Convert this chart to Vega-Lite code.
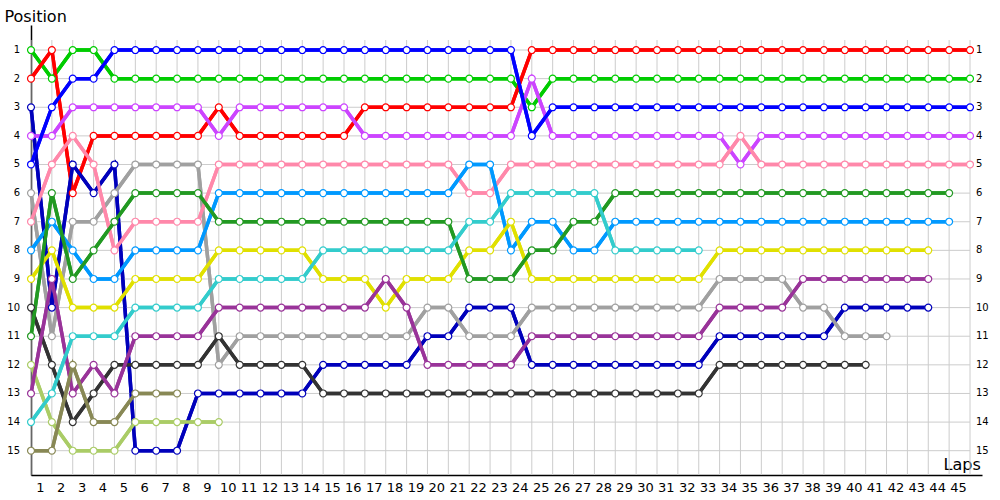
{
"$schema": "https://vega.github.io/schema/vega-lite/v6.json",
"width": 951, "height": 450,
"autosize": {"type": "none"},
"padding": {"left": 31, "top": 25, "right": 18, "bottom": 25},
"background": "white",
"config": {"view": {"stroke": null}, "font": "DejaVu Sans"},
"datasets": {
"laps": [{"lap":0},{"lap":1},{"lap":2},{"lap":3},{"lap":4},{"lap":5},{"lap":6},{"lap":7},{"lap":8},{"lap":9},{"lap":10},{"lap":11},{"lap":12},{"lap":13},{"lap":14},{"lap":15},{"lap":16},{"lap":17},{"lap":18},{"lap":19},{"lap":20},{"lap":21},{"lap":22},{"lap":23},{"lap":24},{"lap":25},{"lap":26},{"lap":27},{"lap":28},{"lap":29},{"lap":30},{"lap":31},{"lap":32},{"lap":33},{"lap":34},{"lap":35},{"lap":36},{"lap":37},{"lap":38},{"lap":39},{"lap":40},{"lap":41},{"lap":42},{"lap":43},{"lap":44},{"lap":45}],
"positions": [{"pos":1},{"pos":2},{"pos":3},{"pos":4},{"pos":5},{"pos":6},{"pos":7},{"pos":8},{"pos":9},{"pos":10},{"pos":11},{"pos":12},{"pos":13},{"pos":14},{"pos":15}],
"race": [
{"driver":"D01","lap":0,"pos":1},{"driver":"D01","lap":1,"pos":2},{"driver":"D01","lap":2,"pos":1},{"driver":"D01","lap":3,"pos":1},{"driver":"D01","lap":4,"pos":2},{"driver":"D01","lap":5,"pos":2},{"driver":"D01","lap":6,"pos":2},{"driver":"D01","lap":7,"pos":2},{"driver":"D01","lap":8,"pos":2},{"driver":"D01","lap":9,"pos":2},{"driver":"D01","lap":10,"pos":2},{"driver":"D01","lap":11,"pos":2},{"driver":"D01","lap":12,"pos":2},{"driver":"D01","lap":13,"pos":2},{"driver":"D01","lap":14,"pos":2},{"driver":"D01","lap":15,"pos":2},{"driver":"D01","lap":16,"pos":2},{"driver":"D01","lap":17,"pos":2},{"driver":"D01","lap":18,"pos":2},{"driver":"D01","lap":19,"pos":2},{"driver":"D01","lap":20,"pos":2},{"driver":"D01","lap":21,"pos":2},{"driver":"D01","lap":22,"pos":2},{"driver":"D01","lap":23,"pos":2},{"driver":"D01","lap":24,"pos":3},{"driver":"D01","lap":25,"pos":2},{"driver":"D01","lap":26,"pos":2},{"driver":"D01","lap":27,"pos":2},{"driver":"D01","lap":28,"pos":2},{"driver":"D01","lap":29,"pos":2},{"driver":"D01","lap":30,"pos":2},{"driver":"D01","lap":31,"pos":2},{"driver":"D01","lap":32,"pos":2},{"driver":"D01","lap":33,"pos":2},{"driver":"D01","lap":34,"pos":2},{"driver":"D01","lap":35,"pos":2},{"driver":"D01","lap":36,"pos":2},{"driver":"D01","lap":37,"pos":2},{"driver":"D01","lap":38,"pos":2},{"driver":"D01","lap":39,"pos":2},{"driver":"D01","lap":40,"pos":2},{"driver":"D01","lap":41,"pos":2},{"driver":"D01","lap":42,"pos":2},{"driver":"D01","lap":43,"pos":2},{"driver":"D01","lap":44,"pos":2},{"driver":"D01","lap":45,"pos":2},
{"driver":"D02","lap":0,"pos":2},{"driver":"D02","lap":1,"pos":1},{"driver":"D02","lap":2,"pos":6},{"driver":"D02","lap":3,"pos":4},{"driver":"D02","lap":4,"pos":4},{"driver":"D02","lap":5,"pos":4},{"driver":"D02","lap":6,"pos":4},{"driver":"D02","lap":7,"pos":4},{"driver":"D02","lap":8,"pos":4},{"driver":"D02","lap":9,"pos":3},{"driver":"D02","lap":10,"pos":4},{"driver":"D02","lap":11,"pos":4},{"driver":"D02","lap":12,"pos":4},{"driver":"D02","lap":13,"pos":4},{"driver":"D02","lap":14,"pos":4},{"driver":"D02","lap":15,"pos":4},{"driver":"D02","lap":16,"pos":3},{"driver":"D02","lap":17,"pos":3},{"driver":"D02","lap":18,"pos":3},{"driver":"D02","lap":19,"pos":3},{"driver":"D02","lap":20,"pos":3},{"driver":"D02","lap":21,"pos":3},{"driver":"D02","lap":22,"pos":3},{"driver":"D02","lap":23,"pos":3},{"driver":"D02","lap":24,"pos":1},{"driver":"D02","lap":25,"pos":1},{"driver":"D02","lap":26,"pos":1},{"driver":"D02","lap":27,"pos":1},{"driver":"D02","lap":28,"pos":1},{"driver":"D02","lap":29,"pos":1},{"driver":"D02","lap":30,"pos":1},{"driver":"D02","lap":31,"pos":1},{"driver":"D02","lap":32,"pos":1},{"driver":"D02","lap":33,"pos":1},{"driver":"D02","lap":34,"pos":1},{"driver":"D02","lap":35,"pos":1},{"driver":"D02","lap":36,"pos":1},{"driver":"D02","lap":37,"pos":1},{"driver":"D02","lap":38,"pos":1},{"driver":"D02","lap":39,"pos":1},{"driver":"D02","lap":40,"pos":1},{"driver":"D02","lap":41,"pos":1},{"driver":"D02","lap":42,"pos":1},{"driver":"D02","lap":43,"pos":1},{"driver":"D02","lap":44,"pos":1},{"driver":"D02","lap":45,"pos":1},
{"driver":"D03","lap":0,"pos":3},{"driver":"D03","lap":1,"pos":10},{"driver":"D03","lap":2,"pos":5},{"driver":"D03","lap":3,"pos":6},{"driver":"D03","lap":4,"pos":5},{"driver":"D03","lap":5,"pos":15},{"driver":"D03","lap":6,"pos":15},{"driver":"D03","lap":7,"pos":15},{"driver":"D03","lap":8,"pos":13},{"driver":"D03","lap":9,"pos":13},{"driver":"D03","lap":10,"pos":13},{"driver":"D03","lap":11,"pos":13},{"driver":"D03","lap":12,"pos":13},{"driver":"D03","lap":13,"pos":13},{"driver":"D03","lap":14,"pos":12},{"driver":"D03","lap":15,"pos":12},{"driver":"D03","lap":16,"pos":12},{"driver":"D03","lap":17,"pos":12},{"driver":"D03","lap":18,"pos":12},{"driver":"D03","lap":19,"pos":11},{"driver":"D03","lap":20,"pos":11},{"driver":"D03","lap":21,"pos":10},{"driver":"D03","lap":22,"pos":10},{"driver":"D03","lap":23,"pos":10},{"driver":"D03","lap":24,"pos":12},{"driver":"D03","lap":25,"pos":12},{"driver":"D03","lap":26,"pos":12},{"driver":"D03","lap":27,"pos":12},{"driver":"D03","lap":28,"pos":12},{"driver":"D03","lap":29,"pos":12},{"driver":"D03","lap":30,"pos":12},{"driver":"D03","lap":31,"pos":12},{"driver":"D03","lap":32,"pos":12},{"driver":"D03","lap":33,"pos":11},{"driver":"D03","lap":34,"pos":11},{"driver":"D03","lap":35,"pos":11},{"driver":"D03","lap":36,"pos":11},{"driver":"D03","lap":37,"pos":11},{"driver":"D03","lap":38,"pos":11},{"driver":"D03","lap":39,"pos":10},{"driver":"D03","lap":40,"pos":10},{"driver":"D03","lap":41,"pos":10},{"driver":"D03","lap":42,"pos":10},{"driver":"D03","lap":43,"pos":10},
{"driver":"D04","lap":0,"pos":4},{"driver":"D04","lap":1,"pos":4},{"driver":"D04","lap":2,"pos":3},{"driver":"D04","lap":3,"pos":3},{"driver":"D04","lap":4,"pos":3},{"driver":"D04","lap":5,"pos":3},{"driver":"D04","lap":6,"pos":3},{"driver":"D04","lap":7,"pos":3},{"driver":"D04","lap":8,"pos":3},{"driver":"D04","lap":9,"pos":4},{"driver":"D04","lap":10,"pos":3},{"driver":"D04","lap":11,"pos":3},{"driver":"D04","lap":12,"pos":3},{"driver":"D04","lap":13,"pos":3},{"driver":"D04","lap":14,"pos":3},{"driver":"D04","lap":15,"pos":3},{"driver":"D04","lap":16,"pos":4},{"driver":"D04","lap":17,"pos":4},{"driver":"D04","lap":18,"pos":4},{"driver":"D04","lap":19,"pos":4},{"driver":"D04","lap":20,"pos":4},{"driver":"D04","lap":21,"pos":4},{"driver":"D04","lap":22,"pos":4},{"driver":"D04","lap":23,"pos":4},{"driver":"D04","lap":24,"pos":2},{"driver":"D04","lap":25,"pos":4},{"driver":"D04","lap":26,"pos":4},{"driver":"D04","lap":27,"pos":4},{"driver":"D04","lap":28,"pos":4},{"driver":"D04","lap":29,"pos":4},{"driver":"D04","lap":30,"pos":4},{"driver":"D04","lap":31,"pos":4},{"driver":"D04","lap":32,"pos":4},{"driver":"D04","lap":33,"pos":4},{"driver":"D04","lap":34,"pos":5},{"driver":"D04","lap":35,"pos":4},{"driver":"D04","lap":36,"pos":4},{"driver":"D04","lap":37,"pos":4},{"driver":"D04","lap":38,"pos":4},{"driver":"D04","lap":39,"pos":4},{"driver":"D04","lap":40,"pos":4},{"driver":"D04","lap":41,"pos":4},{"driver":"D04","lap":42,"pos":4},{"driver":"D04","lap":43,"pos":4},{"driver":"D04","lap":44,"pos":4},{"driver":"D04","lap":45,"pos":4},
{"driver":"D05","lap":0,"pos":5},{"driver":"D05","lap":1,"pos":3},{"driver":"D05","lap":2,"pos":2},{"driver":"D05","lap":3,"pos":2},{"driver":"D05","lap":4,"pos":1},{"driver":"D05","lap":5,"pos":1},{"driver":"D05","lap":6,"pos":1},{"driver":"D05","lap":7,"pos":1},{"driver":"D05","lap":8,"pos":1},{"driver":"D05","lap":9,"pos":1},{"driver":"D05","lap":10,"pos":1},{"driver":"D05","lap":11,"pos":1},{"driver":"D05","lap":12,"pos":1},{"driver":"D05","lap":13,"pos":1},{"driver":"D05","lap":14,"pos":1},{"driver":"D05","lap":15,"pos":1},{"driver":"D05","lap":16,"pos":1},{"driver":"D05","lap":17,"pos":1},{"driver":"D05","lap":18,"pos":1},{"driver":"D05","lap":19,"pos":1},{"driver":"D05","lap":20,"pos":1},{"driver":"D05","lap":21,"pos":1},{"driver":"D05","lap":22,"pos":1},{"driver":"D05","lap":23,"pos":1},{"driver":"D05","lap":24,"pos":4},{"driver":"D05","lap":25,"pos":3},{"driver":"D05","lap":26,"pos":3},{"driver":"D05","lap":27,"pos":3},{"driver":"D05","lap":28,"pos":3},{"driver":"D05","lap":29,"pos":3},{"driver":"D05","lap":30,"pos":3},{"driver":"D05","lap":31,"pos":3},{"driver":"D05","lap":32,"pos":3},{"driver":"D05","lap":33,"pos":3},{"driver":"D05","lap":34,"pos":3},{"driver":"D05","lap":35,"pos":3},{"driver":"D05","lap":36,"pos":3},{"driver":"D05","lap":37,"pos":3},{"driver":"D05","lap":38,"pos":3},{"driver":"D05","lap":39,"pos":3},{"driver":"D05","lap":40,"pos":3},{"driver":"D05","lap":41,"pos":3},{"driver":"D05","lap":42,"pos":3},{"driver":"D05","lap":43,"pos":3},{"driver":"D05","lap":44,"pos":3},{"driver":"D05","lap":45,"pos":3},
{"driver":"D06","lap":0,"pos":6},{"driver":"D06","lap":1,"pos":11},{"driver":"D06","lap":2,"pos":7},{"driver":"D06","lap":3,"pos":7},{"driver":"D06","lap":4,"pos":6},{"driver":"D06","lap":5,"pos":5},{"driver":"D06","lap":6,"pos":5},{"driver":"D06","lap":7,"pos":5},{"driver":"D06","lap":8,"pos":5},{"driver":"D06","lap":9,"pos":12},{"driver":"D06","lap":10,"pos":11},{"driver":"D06","lap":11,"pos":11},{"driver":"D06","lap":12,"pos":11},{"driver":"D06","lap":13,"pos":11},{"driver":"D06","lap":14,"pos":11},{"driver":"D06","lap":15,"pos":11},{"driver":"D06","lap":16,"pos":11},{"driver":"D06","lap":17,"pos":11},{"driver":"D06","lap":18,"pos":11},{"driver":"D06","lap":19,"pos":10},{"driver":"D06","lap":20,"pos":10},{"driver":"D06","lap":21,"pos":11},{"driver":"D06","lap":22,"pos":11},{"driver":"D06","lap":23,"pos":11},{"driver":"D06","lap":24,"pos":10},{"driver":"D06","lap":25,"pos":10},{"driver":"D06","lap":26,"pos":10},{"driver":"D06","lap":27,"pos":10},{"driver":"D06","lap":28,"pos":10},{"driver":"D06","lap":29,"pos":10},{"driver":"D06","lap":30,"pos":10},{"driver":"D06","lap":31,"pos":10},{"driver":"D06","lap":32,"pos":10},{"driver":"D06","lap":33,"pos":9},{"driver":"D06","lap":34,"pos":9},{"driver":"D06","lap":35,"pos":9},{"driver":"D06","lap":36,"pos":9},{"driver":"D06","lap":37,"pos":10},{"driver":"D06","lap":38,"pos":10},{"driver":"D06","lap":39,"pos":11},{"driver":"D06","lap":40,"pos":11},{"driver":"D06","lap":41,"pos":11},
{"driver":"D07","lap":0,"pos":7},{"driver":"D07","lap":1,"pos":5},{"driver":"D07","lap":2,"pos":4},{"driver":"D07","lap":3,"pos":5},{"driver":"D07","lap":4,"pos":8},{"driver":"D07","lap":5,"pos":7},{"driver":"D07","lap":6,"pos":7},{"driver":"D07","lap":7,"pos":7},{"driver":"D07","lap":8,"pos":7},{"driver":"D07","lap":9,"pos":5},{"driver":"D07","lap":10,"pos":5},{"driver":"D07","lap":11,"pos":5},{"driver":"D07","lap":12,"pos":5},{"driver":"D07","lap":13,"pos":5},{"driver":"D07","lap":14,"pos":5},{"driver":"D07","lap":15,"pos":5},{"driver":"D07","lap":16,"pos":5},{"driver":"D07","lap":17,"pos":5},{"driver":"D07","lap":18,"pos":5},{"driver":"D07","lap":19,"pos":5},{"driver":"D07","lap":20,"pos":5},{"driver":"D07","lap":21,"pos":6},{"driver":"D07","lap":22,"pos":6},{"driver":"D07","lap":23,"pos":5},{"driver":"D07","lap":24,"pos":5},{"driver":"D07","lap":25,"pos":5},{"driver":"D07","lap":26,"pos":5},{"driver":"D07","lap":27,"pos":5},{"driver":"D07","lap":28,"pos":5},{"driver":"D07","lap":29,"pos":5},{"driver":"D07","lap":30,"pos":5},{"driver":"D07","lap":31,"pos":5},{"driver":"D07","lap":32,"pos":5},{"driver":"D07","lap":33,"pos":5},{"driver":"D07","lap":34,"pos":4},{"driver":"D07","lap":35,"pos":5},{"driver":"D07","lap":36,"pos":5},{"driver":"D07","lap":37,"pos":5},{"driver":"D07","lap":38,"pos":5},{"driver":"D07","lap":39,"pos":5},{"driver":"D07","lap":40,"pos":5},{"driver":"D07","lap":41,"pos":5},{"driver":"D07","lap":42,"pos":5},{"driver":"D07","lap":43,"pos":5},{"driver":"D07","lap":44,"pos":5},{"driver":"D07","lap":45,"pos":5},
{"driver":"D08","lap":0,"pos":8},{"driver":"D08","lap":1,"pos":7},{"driver":"D08","lap":2,"pos":8},{"driver":"D08","lap":3,"pos":9},{"driver":"D08","lap":4,"pos":9},{"driver":"D08","lap":5,"pos":8},{"driver":"D08","lap":6,"pos":8},{"driver":"D08","lap":7,"pos":8},{"driver":"D08","lap":8,"pos":8},{"driver":"D08","lap":9,"pos":6},{"driver":"D08","lap":10,"pos":6},{"driver":"D08","lap":11,"pos":6},{"driver":"D08","lap":12,"pos":6},{"driver":"D08","lap":13,"pos":6},{"driver":"D08","lap":14,"pos":6},{"driver":"D08","lap":15,"pos":6},{"driver":"D08","lap":16,"pos":6},{"driver":"D08","lap":17,"pos":6},{"driver":"D08","lap":18,"pos":6},{"driver":"D08","lap":19,"pos":6},{"driver":"D08","lap":20,"pos":6},{"driver":"D08","lap":21,"pos":5},{"driver":"D08","lap":22,"pos":5},{"driver":"D08","lap":23,"pos":8},{"driver":"D08","lap":24,"pos":7},{"driver":"D08","lap":25,"pos":7},{"driver":"D08","lap":26,"pos":8},{"driver":"D08","lap":27,"pos":8},{"driver":"D08","lap":28,"pos":7},{"driver":"D08","lap":29,"pos":7},{"driver":"D08","lap":30,"pos":7},{"driver":"D08","lap":31,"pos":7},{"driver":"D08","lap":32,"pos":7},{"driver":"D08","lap":33,"pos":7},{"driver":"D08","lap":34,"pos":7},{"driver":"D08","lap":35,"pos":7},{"driver":"D08","lap":36,"pos":7},{"driver":"D08","lap":37,"pos":7},{"driver":"D08","lap":38,"pos":7},{"driver":"D08","lap":39,"pos":7},{"driver":"D08","lap":40,"pos":7},{"driver":"D08","lap":41,"pos":7},{"driver":"D08","lap":42,"pos":7},{"driver":"D08","lap":43,"pos":7},{"driver":"D08","lap":44,"pos":7},
{"driver":"D09","lap":0,"pos":9},{"driver":"D09","lap":1,"pos":8},{"driver":"D09","lap":2,"pos":10},{"driver":"D09","lap":3,"pos":10},{"driver":"D09","lap":4,"pos":10},{"driver":"D09","lap":5,"pos":9},{"driver":"D09","lap":6,"pos":9},{"driver":"D09","lap":7,"pos":9},{"driver":"D09","lap":8,"pos":9},{"driver":"D09","lap":9,"pos":8},{"driver":"D09","lap":10,"pos":8},{"driver":"D09","lap":11,"pos":8},{"driver":"D09","lap":12,"pos":8},{"driver":"D09","lap":13,"pos":8},{"driver":"D09","lap":14,"pos":9},{"driver":"D09","lap":15,"pos":9},{"driver":"D09","lap":16,"pos":9},{"driver":"D09","lap":17,"pos":10},{"driver":"D09","lap":18,"pos":9},{"driver":"D09","lap":19,"pos":9},{"driver":"D09","lap":20,"pos":9},{"driver":"D09","lap":21,"pos":8},{"driver":"D09","lap":22,"pos":8},{"driver":"D09","lap":23,"pos":7},{"driver":"D09","lap":24,"pos":9},{"driver":"D09","lap":25,"pos":9},{"driver":"D09","lap":26,"pos":9},{"driver":"D09","lap":27,"pos":9},{"driver":"D09","lap":28,"pos":9},{"driver":"D09","lap":29,"pos":9},{"driver":"D09","lap":30,"pos":9},{"driver":"D09","lap":31,"pos":9},{"driver":"D09","lap":32,"pos":9},{"driver":"D09","lap":33,"pos":8},{"driver":"D09","lap":34,"pos":8},{"driver":"D09","lap":35,"pos":8},{"driver":"D09","lap":36,"pos":8},{"driver":"D09","lap":37,"pos":8},{"driver":"D09","lap":38,"pos":8},{"driver":"D09","lap":39,"pos":8},{"driver":"D09","lap":40,"pos":8},{"driver":"D09","lap":41,"pos":8},{"driver":"D09","lap":42,"pos":8},{"driver":"D09","lap":43,"pos":8},
{"driver":"D10","lap":0,"pos":10},{"driver":"D10","lap":1,"pos":12},{"driver":"D10","lap":2,"pos":14},{"driver":"D10","lap":3,"pos":13},{"driver":"D10","lap":4,"pos":12},{"driver":"D10","lap":5,"pos":12},{"driver":"D10","lap":6,"pos":12},{"driver":"D10","lap":7,"pos":12},{"driver":"D10","lap":8,"pos":12},{"driver":"D10","lap":9,"pos":11},{"driver":"D10","lap":10,"pos":12},{"driver":"D10","lap":11,"pos":12},{"driver":"D10","lap":12,"pos":12},{"driver":"D10","lap":13,"pos":12},{"driver":"D10","lap":14,"pos":13},{"driver":"D10","lap":15,"pos":13},{"driver":"D10","lap":16,"pos":13},{"driver":"D10","lap":17,"pos":13},{"driver":"D10","lap":18,"pos":13},{"driver":"D10","lap":19,"pos":13},{"driver":"D10","lap":20,"pos":13},{"driver":"D10","lap":21,"pos":13},{"driver":"D10","lap":22,"pos":13},{"driver":"D10","lap":23,"pos":13},{"driver":"D10","lap":24,"pos":13},{"driver":"D10","lap":25,"pos":13},{"driver":"D10","lap":26,"pos":13},{"driver":"D10","lap":27,"pos":13},{"driver":"D10","lap":28,"pos":13},{"driver":"D10","lap":29,"pos":13},{"driver":"D10","lap":30,"pos":13},{"driver":"D10","lap":31,"pos":13},{"driver":"D10","lap":32,"pos":13},{"driver":"D10","lap":33,"pos":12},{"driver":"D10","lap":34,"pos":12},{"driver":"D10","lap":35,"pos":12},{"driver":"D10","lap":36,"pos":12},{"driver":"D10","lap":37,"pos":12},{"driver":"D10","lap":38,"pos":12},{"driver":"D10","lap":39,"pos":12},{"driver":"D10","lap":40,"pos":12},
{"driver":"D11","lap":0,"pos":11},{"driver":"D11","lap":1,"pos":6},{"driver":"D11","lap":2,"pos":9},{"driver":"D11","lap":3,"pos":8},{"driver":"D11","lap":4,"pos":7},{"driver":"D11","lap":5,"pos":6},{"driver":"D11","lap":6,"pos":6},{"driver":"D11","lap":7,"pos":6},{"driver":"D11","lap":8,"pos":6},{"driver":"D11","lap":9,"pos":7},{"driver":"D11","lap":10,"pos":7},{"driver":"D11","lap":11,"pos":7},{"driver":"D11","lap":12,"pos":7},{"driver":"D11","lap":13,"pos":7},{"driver":"D11","lap":14,"pos":7},{"driver":"D11","lap":15,"pos":7},{"driver":"D11","lap":16,"pos":7},{"driver":"D11","lap":17,"pos":7},{"driver":"D11","lap":18,"pos":7},{"driver":"D11","lap":19,"pos":7},{"driver":"D11","lap":20,"pos":7},{"driver":"D11","lap":21,"pos":9},{"driver":"D11","lap":22,"pos":9},{"driver":"D11","lap":23,"pos":9},{"driver":"D11","lap":24,"pos":8},{"driver":"D11","lap":25,"pos":8},{"driver":"D11","lap":26,"pos":7},{"driver":"D11","lap":27,"pos":7},{"driver":"D11","lap":28,"pos":6},{"driver":"D11","lap":29,"pos":6},{"driver":"D11","lap":30,"pos":6},{"driver":"D11","lap":31,"pos":6},{"driver":"D11","lap":32,"pos":6},{"driver":"D11","lap":33,"pos":6},{"driver":"D11","lap":34,"pos":6},{"driver":"D11","lap":35,"pos":6},{"driver":"D11","lap":36,"pos":6},{"driver":"D11","lap":37,"pos":6},{"driver":"D11","lap":38,"pos":6},{"driver":"D11","lap":39,"pos":6},{"driver":"D11","lap":40,"pos":6},{"driver":"D11","lap":41,"pos":6},{"driver":"D11","lap":42,"pos":6},{"driver":"D11","lap":43,"pos":6},{"driver":"D11","lap":44,"pos":6},
{"driver":"D12","lap":0,"pos":12},{"driver":"D12","lap":1,"pos":14},{"driver":"D12","lap":2,"pos":15},{"driver":"D12","lap":3,"pos":15},{"driver":"D12","lap":4,"pos":15},{"driver":"D12","lap":5,"pos":14},{"driver":"D12","lap":6,"pos":14},{"driver":"D12","lap":7,"pos":14},{"driver":"D12","lap":8,"pos":14},{"driver":"D12","lap":9,"pos":14},
{"driver":"D13","lap":0,"pos":13},{"driver":"D13","lap":1,"pos":9},{"driver":"D13","lap":2,"pos":13},{"driver":"D13","lap":3,"pos":12},{"driver":"D13","lap":4,"pos":13},{"driver":"D13","lap":5,"pos":11},{"driver":"D13","lap":6,"pos":11},{"driver":"D13","lap":7,"pos":11},{"driver":"D13","lap":8,"pos":11},{"driver":"D13","lap":9,"pos":10},{"driver":"D13","lap":10,"pos":10},{"driver":"D13","lap":11,"pos":10},{"driver":"D13","lap":12,"pos":10},{"driver":"D13","lap":13,"pos":10},{"driver":"D13","lap":14,"pos":10},{"driver":"D13","lap":15,"pos":10},{"driver":"D13","lap":16,"pos":10},{"driver":"D13","lap":17,"pos":9},{"driver":"D13","lap":18,"pos":10},{"driver":"D13","lap":19,"pos":12},{"driver":"D13","lap":20,"pos":12},{"driver":"D13","lap":21,"pos":12},{"driver":"D13","lap":22,"pos":12},{"driver":"D13","lap":23,"pos":12},{"driver":"D13","lap":24,"pos":11},{"driver":"D13","lap":25,"pos":11},{"driver":"D13","lap":26,"pos":11},{"driver":"D13","lap":27,"pos":11},{"driver":"D13","lap":28,"pos":11},{"driver":"D13","lap":29,"pos":11},{"driver":"D13","lap":30,"pos":11},{"driver":"D13","lap":31,"pos":11},{"driver":"D13","lap":32,"pos":11},{"driver":"D13","lap":33,"pos":10},{"driver":"D13","lap":34,"pos":10},{"driver":"D13","lap":35,"pos":10},{"driver":"D13","lap":36,"pos":10},{"driver":"D13","lap":37,"pos":9},{"driver":"D13","lap":38,"pos":9},{"driver":"D13","lap":39,"pos":9},{"driver":"D13","lap":40,"pos":9},{"driver":"D13","lap":41,"pos":9},{"driver":"D13","lap":42,"pos":9},{"driver":"D13","lap":43,"pos":9},
{"driver":"D14","lap":0,"pos":14},{"driver":"D14","lap":1,"pos":13},{"driver":"D14","lap":2,"pos":11},{"driver":"D14","lap":3,"pos":11},{"driver":"D14","lap":4,"pos":11},{"driver":"D14","lap":5,"pos":10},{"driver":"D14","lap":6,"pos":10},{"driver":"D14","lap":7,"pos":10},{"driver":"D14","lap":8,"pos":10},{"driver":"D14","lap":9,"pos":9},{"driver":"D14","lap":10,"pos":9},{"driver":"D14","lap":11,"pos":9},{"driver":"D14","lap":12,"pos":9},{"driver":"D14","lap":13,"pos":9},{"driver":"D14","lap":14,"pos":8},{"driver":"D14","lap":15,"pos":8},{"driver":"D14","lap":16,"pos":8},{"driver":"D14","lap":17,"pos":8},{"driver":"D14","lap":18,"pos":8},{"driver":"D14","lap":19,"pos":8},{"driver":"D14","lap":20,"pos":8},{"driver":"D14","lap":21,"pos":7},{"driver":"D14","lap":22,"pos":7},{"driver":"D14","lap":23,"pos":6},{"driver":"D14","lap":24,"pos":6},{"driver":"D14","lap":25,"pos":6},{"driver":"D14","lap":26,"pos":6},{"driver":"D14","lap":27,"pos":6},{"driver":"D14","lap":28,"pos":8},{"driver":"D14","lap":29,"pos":8},{"driver":"D14","lap":30,"pos":8},{"driver":"D14","lap":31,"pos":8},{"driver":"D14","lap":32,"pos":8},
{"driver":"D15","lap":0,"pos":15},{"driver":"D15","lap":1,"pos":15},{"driver":"D15","lap":2,"pos":12},{"driver":"D15","lap":3,"pos":14},{"driver":"D15","lap":4,"pos":14},{"driver":"D15","lap":5,"pos":13},{"driver":"D15","lap":6,"pos":13},{"driver":"D15","lap":7,"pos":13}
]
},
"layer": [
{"data": {"name": "race"}, "mark": {"type": "line", "strokeWidth": 3.5},
 "encoding": {
  "x": {"field": "lap", "type": "quantitative",
   "scale": {"domain": [0, 45.575], "nice": false, "zero": false},
   "axis": {"values": [0], "grid": false, "ticks": false, "labels": false, "domainColor": "black", "domainWidth": 1.5,
    "title": "Laps", "titleFontSize": 16, "titleFontWeight": "normal", "titleColor": "black", "titleX": 912, "titleY": -6, "titleAlign": "left", "titleBaseline": "alphabetic"}},
  "y": {"field": "pos", "type": "quantitative",
   "scale": {"domain": [0.126, 15.849], "reverse": true, "nice": false, "zero": false},
   "axis": {"values": [1], "grid": false, "ticks": false, "labels": false, "domainColor": "black", "domainWidth": 1.5,
    "title": "Position", "titleAngle": 0, "titleAlign": "left", "titleBaseline": "alphabetic", "titleX": -27, "titleY": -4, "titleFontSize": 16, "titleFontWeight": "normal", "titleColor": "black"}},
  "color": {"field": "driver", "type": "nominal", "legend": null,
   "scale": {"domain": ["D01","D02","D03","D04","D05","D06","D07","D08","D09","D10","D11","D12","D13","D14","D15"],
    "range": ["#00cc00","#ff0000","#0000bb","#cc44ff","#0000ff","#a0a0a0","#ff88aa","#0099ff","#e0e000","#333333","#229922","#aacc66","#993399","#33cccc","#888855"]}}}},
{"data": {"name": "laps"}, "mark": {"type": "rule", "color": "#cccccc", "strokeWidth": 1},
 "encoding": {"x": {"field": "lap", "type": "quantitative"}, "y": {"datum": 0.65, "type": "quantitative"}, "y2": {"datum": 15.849}}},
{"data": {"name": "positions"}, "mark": {"type": "rule", "color": "#cccccc", "strokeWidth": 1},
 "encoding": {"y": {"field": "pos", "type": "quantitative"}, "x": {"datum": 0, "type": "quantitative"}, "x2": {"datum": 45}}},
{"data": {"name": "positions"}, "mark": {"type": "text", "align": "left", "baseline": "middle", "dx": 6, "fontSize": 10, "color": "black", "font": "DejaVu Sans"},
 "encoding": {"y": {"field": "pos", "type": "quantitative"}, "x": {"datum": 45, "type": "quantitative"}, "text": {"field": "pos", "type": "quantitative"}}},
{"data": {"name": "positions"}, "mark": {"type": "text", "align": "right", "baseline": "middle", "dx": -11, "fontSize": 10, "color": "black", "font": "DejaVu Sans"},
 "encoding": {"y": {"field": "pos", "type": "quantitative"}, "x": {"datum": 0, "type": "quantitative"}, "text": {"field": "pos", "type": "quantitative"}}},
{"data": {"name": "laps"}, "transform": [{"filter": "datum.lap > 0"}],
 "mark": {"type": "text", "align": "center", "baseline": "top", "dx": -11.5, "dy": 7, "fontSize": 13, "color": "black", "font": "DejaVu Sans"},
 "encoding": {"x": {"field": "lap", "type": "quantitative"}, "y": {"datum": 15.849, "type": "quantitative"}, "text": {"field": "lap", "type": "quantitative"}}},
{"data": {"name": "race"}, "mark": {"type": "line", "strokeWidth": 3.5},
 "encoding": {
  "x": {"field": "lap", "type": "quantitative"},
  "y": {"field": "pos", "type": "quantitative"},
  "color": {"field": "driver", "type": "nominal", "legend": null}}},
{"data": {"name": "race"}, "mark": {"type": "point", "filled": true, "fill": "white", "size": 48, "strokeWidth": 1.2, "opacity": 1},
 "encoding": {
  "x": {"field": "lap", "type": "quantitative"},
  "y": {"field": "pos", "type": "quantitative"},
  "stroke": {"field": "driver", "type": "nominal", "legend": null,
   "scale": {"domain": ["D01","D02","D03","D04","D05","D06","D07","D08","D09","D10","D11","D12","D13","D14","D15"],
    "range": ["#00cc00","#ff0000","#0000bb","#cc44ff","#0000ff","#a0a0a0","#ff88aa","#0099ff","#e0e000","#333333","#229922","#aacc66","#993399","#33cccc","#888855"]}}}},
{"mark": {"type": "point", "shape": "triangle-right", "filled": true, "color": "black", "size": 30},
 "encoding": {"x": {"datum": 45.3, "type": "quantitative"}, "y": {"datum": 15.849, "type": "quantitative"}}},
{"mark": {"type": "point", "shape": "circle", "filled": true, "color": "black", "size": 12},
 "encoding": {"x": {"datum": 0, "type": "quantitative"}, "y": {"datum": 0.126, "type": "quantitative"}}}
]
}
